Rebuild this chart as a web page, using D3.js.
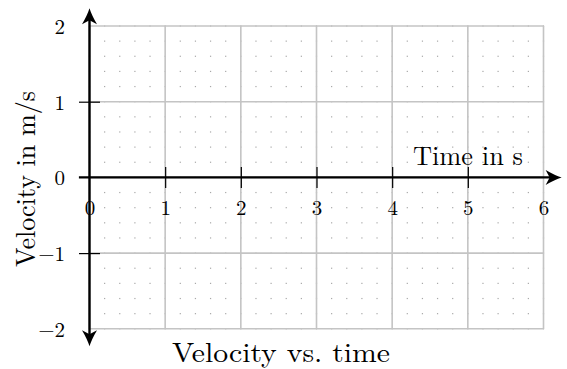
<!DOCTYPE html>
<html>
<head>
<meta charset="utf-8">
<script src="https://cdn.jsdelivr.net/npm/d3@7"></script>
<style>
  body { margin: 0; background: #fff; }
  text { font-family: "Latin Modern Roman", "CMU Serif", "Liberation Serif", serif; fill: #000; }
</style>
</head>
<body>
<div id="chart"></div>
<script>
const xDomain = [0, 6];
const yDomain = [-2, 2];
const xTicks = [0, 1, 2, 3, 4, 5, 6];
const xTickLabels = ['0', '1', '2', '3', '4', '5', '6'];
const yTicks = [-2, -1, 0, 1, 2];
const yTickLabels = ['\u22122', '\u22121', '0', '1', '2'];
const xMarkedTicks = [1, 2, 3, 4, 5];
const yMarkedTicks = [-1, 1];
const minorStep = 0.2;
const xLabel = 'Time in s';
const yLabel = 'Velocity in m/s';
const title = 'Velocity vs. time';

const W = 567, H = 369;

const x = d3.scaleLinear().domain(xDomain).range([89.5, 543.5]);
const y = d3.scaleLinear().domain(yDomain).range([328.8, 26]);

const svg = d3.select("#chart").append("svg")
    .attr("width", W)
    .attr("height", H);

// minor dotted grid
const minorX = d3.range(xDomain[0], xDomain[1] + 1e-9, minorStep);
const minorY = d3.range(yDomain[0], yDomain[1] + 1e-9, minorStep);
const dots = [];
minorX.forEach(a => minorY.forEach(b => dots.push([a, b])));
svg.append("g")
    .selectAll("rect")
    .data(dots)
  .enter().append("rect")
    .attr("x", d => x(d[0]) - 0.6)
    .attr("y", d => y(d[1]) - 0.6)
    .attr("width", 1.2)
    .attr("height", 1.2)
    .attr("fill", "#a8a8a8");

// major grid
const grid = svg.append("g").attr("stroke", "#c4c4c4").attr("stroke-width", 1.6);
grid.selectAll(".vx")
    .data(xTicks)
  .enter().append("line")
    .attr("x1", d => x(d)).attr("x2", d => x(d))
    .attr("y1", y(yDomain[0])).attr("y2", y(yDomain[1]));
grid.selectAll(".hy")
    .data(yTicks)
  .enter().append("line")
    .attr("y1", d => y(d)).attr("y2", d => y(d))
    .attr("x1", x(xDomain[0])).attr("x2", x(xDomain[1]));

// axes with labels from d3.axis
const tickLen = 10.5;
const xAxis = svg.append("g")
    .attr("transform", "translate(0," + y(0) + ")")
    .call(d3.axisBottom(x)
        .tickValues(xTicks)
        .tickFormat((d, i) => xTickLabels[i])
        .tickSize(tickLen)
        .tickPadding(12.6));
xAxis.select(".domain").remove();
xAxis.selectAll(".tick line")
    .attr("y1", -tickLen)
    .attr("stroke", "#000")
    .attr("stroke-width", 1.2)
    .style("display", d => xMarkedTicks.includes(d) ? null : "none");
xAxis.selectAll(".tick text")
    .style("font-size", "21px")
    .style("font-family", null);

const yAxis = svg.append("g")
    .attr("transform", "translate(" + x(0) + ",0)")
    .call(d3.axisLeft(y)
        .tickValues(yTicks)
        .tickFormat((d, i) => yTickLabels[i])
        .tickSize(tickLen)
        .tickPadding(14));
yAxis.select(".domain").remove();
yAxis.selectAll(".tick line")
    .attr("x1", tickLen)
    .attr("stroke", "#000")
    .attr("stroke-width", 1.2)
    .style("display", d => yMarkedTicks.includes(d) ? null : "none");
yAxis.selectAll(".tick text")
    .attr("dy", "0.36em")
    .style("font-size", "21px")
    .style("font-family", null);

// axis lines with arrow heads
const arrowPath = "M0,0 Q-7,-2.2 -16,-7.5 L-12,0 L-16,7.5 Q-7,2.2 0,0 Z";
const axisW = 2.4;
const xStart = -0.14, xEnd = 6.24;
const yLo = -2.23, yHi = 2.235;

svg.append("line")
    .attr("x1", x(xStart)).attr("x2", x(xEnd) - 10)
    .attr("y1", y(0)).attr("y2", y(0))
    .attr("stroke", "#000").attr("stroke-width", axisW);
svg.append("path")
    .attr("d", arrowPath)
    .attr("transform", "translate(" + x(xEnd) + "," + y(0) + ")");

svg.append("line")
    .attr("x1", x(0)).attr("x2", x(0))
    .attr("y1", y(yLo) - 10).attr("y2", y(yHi) + 10)
    .attr("stroke", "#000").attr("stroke-width", axisW);
svg.append("path")
    .attr("d", arrowPath)
    .attr("transform", "translate(" + x(0) + "," + y(yHi) + ") rotate(-90)");
svg.append("path")
    .attr("d", arrowPath)
    .attr("transform", "translate(" + x(0) + "," + y(yLo) + ") rotate(90)");

// labels
svg.append("text")
    .attr("x", 413)
    .attr("y", 165)
    .attr("textLength", 110)
    .attr("lengthAdjust", "spacingAndGlyphs")
    .style("font-size", "27px")
    .text(xLabel);

svg.append("text")
    .attr("transform", "translate(34.5,179) rotate(-90)")
    .attr("text-anchor", "middle")
    .attr("textLength", 176)
    .attr("lengthAdjust", "spacingAndGlyphs")
    .style("font-size", "27px")
    .text(yLabel);

svg.append("text")
    .attr("x", 281)
    .attr("y", 361.5)
    .attr("text-anchor", "middle")
    .attr("textLength", 218)
    .attr("lengthAdjust", "spacingAndGlyphs")
    .style("font-size", "28px")
    .text(title);
</script>
</body>
</html>
